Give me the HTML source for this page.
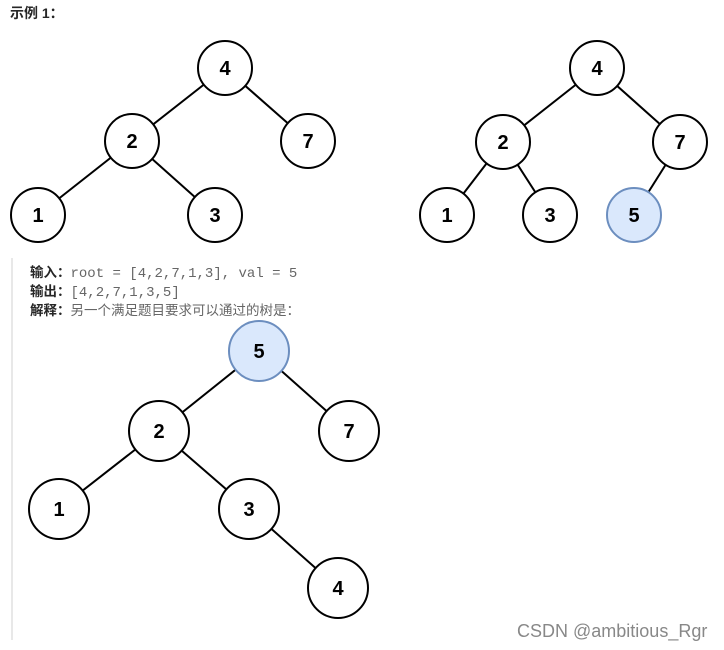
<!DOCTYPE html>
<html><head><meta charset="utf-8"><style>
body{margin:0;background:#fff;width:724px;height:650px;overflow:hidden;position:relative;font-family:"Liberation Sans","Noto Sans CJK SC",sans-serif}
.t{position:absolute;font-size:13.5px;color:#333;white-space:nowrap}
b{font-weight:bold;color:#262626}
.m{font-family:"Liberation Mono",monospace;color:#666;font-size:14px}
</style></head><body>
<div class="t" style="left:10px;top:3px;font-weight:bold;font-size:14px;color:#262626">示例 1：</div>
<div style="position:absolute;left:11px;top:258px;width:2px;height:382px;background:#e8e8e8"></div>
<div class="t" style="left:30px;top:261px"><b>输入：</b><span class="m">root = [4,2,7,1,3], val = 5</span></div>
<div class="t" style="left:30px;top:280px"><b>输出：</b><span class="m">[4,2,7,1,3,5]</span></div>
<div class="t" style="left:30px;top:299px"><b>解释：</b><span style="color:#666">另一个满足题目要求可以通过的树是：</span></div>
<div class="t" style="left:517px;top:621px;font-size:18px;color:#888">CSDN @ambitious_Rgr</div>
<svg width="724" height="650" style="position:absolute;left:0;top:0" font-family="Liberation Sans, sans-serif" font-weight="bold" text-anchor="middle">
<g stroke="#000" stroke-width="2">
<line x1="225" y1="68" x2="132" y2="141"/><line x1="225" y1="68" x2="308" y2="141"/>
<line x1="132" y1="141" x2="38" y2="215"/><line x1="132" y1="141" x2="215" y2="215"/>
<line x1="597" y1="68" x2="503" y2="142"/><line x1="597" y1="68" x2="680" y2="142"/>
<line x1="503" y1="142" x2="447" y2="215"/><line x1="503" y1="142" x2="550" y2="215"/>
<line x1="680" y1="142" x2="634" y2="215"/>
<line x1="259" y1="351" x2="159" y2="431"/><line x1="259" y1="351" x2="349" y2="431"/>
<line x1="159" y1="431" x2="59" y2="509"/><line x1="159" y1="431" x2="249" y2="509"/>
<line x1="249" y1="509" x2="338" y2="588"/>
</g>
<g stroke="#000" stroke-width="2" fill="#fff">
<circle cx="225" cy="68" r="27"/><circle cx="132" cy="141" r="27"/><circle cx="308" cy="141" r="27"/>
<circle cx="38" cy="215" r="27"/><circle cx="215" cy="215" r="27"/>
<circle cx="597" cy="68" r="27"/><circle cx="503" cy="142" r="27"/><circle cx="680" cy="142" r="27"/>
<circle cx="447" cy="215" r="27"/><circle cx="550" cy="215" r="27"/>
<circle cx="159" cy="431" r="30"/><circle cx="349" cy="431" r="30"/>
<circle cx="59" cy="509" r="30"/><circle cx="249" cy="509" r="30"/><circle cx="338" cy="588" r="30"/>
</g>
<circle cx="634" cy="215" r="27" fill="#dae8fc" stroke="#6c8ebf" stroke-width="2"/>
<circle cx="259" cy="351" r="30" fill="#dae8fc" stroke="#6c8ebf" stroke-width="2"/>
<g font-size="20" fill="#000">
<text x="225" y="75">4</text><text x="132" y="148">2</text><text x="308" y="148">7</text><text x="38" y="222">1</text><text x="215" y="222">3</text>
<text x="597" y="75">4</text><text x="503" y="149">2</text><text x="680" y="149">7</text><text x="447" y="222">1</text><text x="550" y="222">3</text><text x="634" y="222">5</text>
<text x="259" y="358">5</text><text x="159" y="438">2</text><text x="349" y="438">7</text><text x="59" y="516">1</text><text x="249" y="516">3</text><text x="338" y="595">4</text>
</g>
</svg>
</body></html>
